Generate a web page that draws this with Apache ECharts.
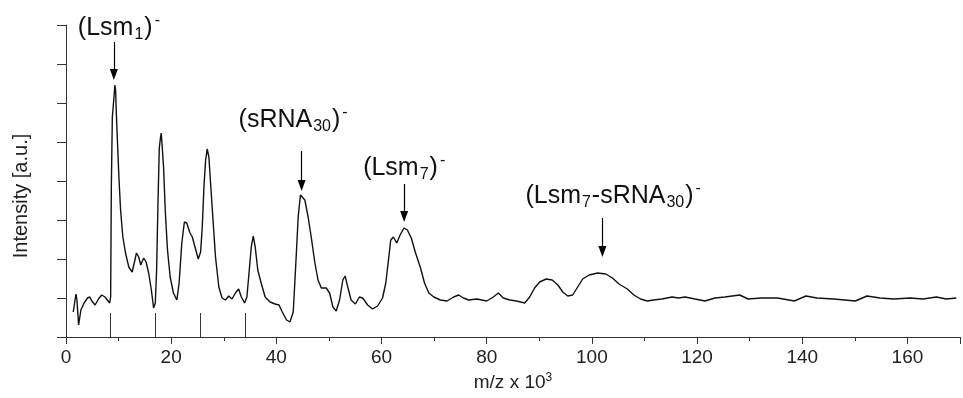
<!DOCTYPE html>
<html>
<head>
<meta charset="utf-8">
<script src="https://cdn.jsdelivr.net/npm/echarts@6/dist/echarts.min.js"></script>
<style>
  html, body { margin: 0; padding: 0; background: #fff; }
  #spectrum-chart { width: 963px; height: 398px; }
</style>
</head>
<body>
<div id="spectrum-chart"></div>
<script>
// m/z (x 10^3) and intensity (a.u.)
const mz = [1.38, 1.89, 2.08, 2.40, 2.83, 3.45, 4.09, 4.53, 4.91, 5.53,
  6.17, 6.79, 7.42, 7.87, 8.30, 8.49, 8.62, 8.81, 9.11, 9.30,
  9.43, 9.57, 9.75, 10.06, 10.38, 10.81, 11.32, 11.94, 12.58, 13.02,
  13.40, 13.83, 14.21, 14.77, 15.23, 15.72, 16.23, 16.66, 16.98, 17.23,
  17.49, 17.74, 17.98, 18.11, 18.30, 18.55, 18.87, 19.30, 19.81, 20.43,
  21.08, 21.51, 22.02, 22.51, 22.96, 23.58, 24.02, 24.53, 25.15, 25.60,
  25.91, 26.23, 26.55, 26.85, 27.17, 27.49, 27.92, 28.43, 29.06, 29.68,
  30.32, 30.94, 31.57, 32.21, 32.83, 33.34, 33.96, 34.40, 34.85, 35.23,
  35.60, 35.98, 36.47, 37.11, 37.87, 38.81, 39.75, 40.51, 41.13, 41.94,
  42.58, 43.21, 43.64, 44.15, 44.58, 44.91, 45.42, 46.04, 46.66, 47.30,
  47.92, 48.55, 49.49, 50.13, 50.75, 51.38, 52.02, 52.64, 53.08, 53.58,
  54.21, 55.04, 55.79, 56.42, 57.36, 58.30, 59.25, 60.19, 60.81, 61.32,
  61.75, 62.26, 62.89, 63.53, 64.28, 64.91, 65.66, 66.47, 67.42, 68.17,
  69.00, 69.94, 71.19, 72.45, 73.72, 74.66, 75.60, 76.55, 78.11, 80.00,
  81.26, 82.21, 83.15, 84.40, 85.66, 87.23, 88.17, 89.11, 90.06, 91.32,
  92.45, 93.53, 94.47, 95.42, 96.36, 97.30, 98.25, 99.49, 101.08, 102.64,
  103.91, 105.15, 106.74, 107.98, 109.25, 110.51, 111.75, 113.34, 115.23, 116.47,
  117.74, 119.6, 121.5, 123.4, 125.3, 128.1, 129.7, 132.2, 135.3, 138.5,
  140.7, 142.8, 146.0, 150.1, 152.3, 154.8, 157.4, 160.5, 163.0, 165.5,
  167.4, 169.3];
const intensity = [25, 43, 37, 12, 27, 34, 39, 40, 36, 32,
  38, 42, 40, 37, 34, 40, 150, 220, 239, 252,
  247, 224, 200, 160, 127, 100, 84, 70, 65, 75,
  84, 80, 72, 79, 75, 64, 47, 29, 34, 67,
  134, 189, 200, 204, 190, 170, 127, 87, 60, 44,
  37, 54, 94, 115, 114, 104, 100, 90, 78, 85,
  110, 150, 177, 188, 180, 154, 120, 80, 50, 39,
  37, 41, 38, 44, 48, 40, 34, 40, 67, 90,
  101, 90, 67, 54, 40, 35, 33, 32, 25, 17,
  15, 25, 67, 120, 142, 144, 137, 120, 99, 75,
  57, 49, 49, 44, 30, 26, 37, 57, 61, 50,
  37, 33, 40, 39, 32, 28, 31, 39, 54, 77,
  97, 100, 94, 102, 109, 107, 99, 84, 69, 54,
  44, 40, 37, 36, 40, 42, 39, 37, 38, 36,
  40, 44, 39, 37, 36, 34, 40, 49, 55, 58,
  57, 52, 45, 41, 42, 50, 58, 62, 64, 63,
  59, 53, 48, 42, 38, 36, 37, 38, 40, 39,
  40, 38, 36, 39, 40, 42, 38, 39, 39, 36,
  41, 39, 38, 36, 41, 39, 38, 39, 38, 40,
  38, 39];

// calculated masses drawn as short sticks on the baseline
const stickMz = [8.5, 16.9, 25.5, 34.1];
const stickHeight = 24;

// peak assignments: arrow position, arrow start and tip (intensity units)
const peakNames = ['{m|(Lsm}{b|1}{m|)}{p|-}', '{m|(sRNA}{b|30}{m|)}{p|-}',
  '{m|(Lsm}{b|7}{m|)}{p|-}', '{m|(Lsm}{b|7}{m|-sRNA}{b|30}{m|)}{p|-}'];
const arrowMz = [9.1, 44.8, 64.3, 102.0];
const arrowStart = [295, 186, 153, 119];
const arrowTip = [257, 146, 115, 80];

const labelOffsets = [[-36, 1], [-63, -16], [-41, -1], [-77, -7]];
const headLen = 11;
const font = 'Liberation Sans, Arial, Helvetica, sans-serif';

const chart = echarts.init(document.getElementById('spectrum-chart'));

chart.setOption({
  animation: false,
  backgroundColor: '#fff',
  grid: { left: 66, right: -2, top: 25, bottom: 61 },
  xAxis: [
    {
      type: 'value', min: 0, max: 170, interval: 20,
      name: '{a|m/z x 10}{s|3}',
      nameLocation: 'middle', nameGap: 35,
      nameTextStyle: {
        rich: {
          a: { fontFamily: font, fontSize: 19, color: '#222', lineHeight: 22 },
          s: { fontFamily: font, fontSize: 12, color: '#222', lineHeight: 11, verticalAlign: 'top' }
        }
      },
      axisLine: { lineStyle: { color: '#333', width: 1 } },
      axisTick: { length: 7, lineStyle: { color: '#333' } },
      axisLabel: {
        fontFamily: font, fontSize: 19, color: '#222', margin: 11,
        formatter: (v) => (v % 20 === 0 ? String(v) : '')
      },
      splitLine: { show: false }
    },
    {
      type: 'value', min: 0, max: 170, interval: 10, position: 'bottom',
      axisLine: { show: false },
      axisTick: { length: 4, lineStyle: { color: '#333' } },
      axisLabel: { show: false },
      splitLine: { show: false }
    }
  ],
  yAxis: {
    type: 'value', min: 0, max: 312, interval: 39,
    name: 'Intensity [a.u.]',
    nameLocation: 'middle', nameGap: 35,
    nameTextStyle: { fontFamily: font, fontSize: 20, color: '#222', padding: [0, 30, 0, 0] },
    axisLine: { show: true, lineStyle: { color: '#333', width: 1 } },
    axisTick: { show: true, length: 9, lineStyle: { color: '#333' } },
    axisLabel: { show: false },
    splitLine: { show: false }
  },
  series: [
    {
      name: 'spectrum',
      type: 'line',
      data: mz.map((x, i) => [x, intensity[i]]),
      showSymbol: false,
      lineStyle: { color: '#111', width: 1.4 },
      z: 3
    },
    {
      name: 'sticks',
      type: 'line',
      data: [],
      markLine: {
        silent: true,
        symbol: 'none',
        label: { show: false },
        lineStyle: { color: '#333', width: 1, type: 'solid' },
        data: stickMz.map((x) => [{ coord: [x, 0] }, { coord: [x, stickHeight] }])
      }
    },
    {
      name: 'assignments',
      type: 'line',
      data: [],
      markLine: {
        silent: true,
        symbol: ['none', 'triangle'],
        symbolSize: [8, headLen],
        label: { show: false },
        lineStyle: { color: '#000', width: 1.2, type: 'solid' },
        itemStyle: { color: '#000' },
        data: arrowMz.map((x, i) => [
          { coord: [x, arrowStart[i]] },
          { coord: [x, arrowTip[i] + headLen / 2] }
        ])
      },
      markPoint: {
        silent: true,
        symbol: 'circle',
        symbolSize: 0,
        itemStyle: { color: 'transparent' },
        data: arrowMz.map((x, i) => ({
          coord: [x, arrowStart[i]],
          label: {
            show: true,
            position: 'top',
            distance: 0,
            align: 'left',
            offset: labelOffsets[i],
            formatter: peakNames[i],
            rich: {
              m: { fontFamily: font, fontSize: 25, color: '#111', lineHeight: 30 },
              b: { fontFamily: font, fontSize: 16, color: '#111', lineHeight: 20, verticalAlign: 'bottom', padding: [0, 1, 0, 1] },
              p: { fontFamily: font, fontSize: 16, color: '#111', lineHeight: 11, verticalAlign: 'top', padding: [0, 0, 0, 2] }
            }
          }
        }))
      }
    }
  ]
});
</script>
</body>
</html>
